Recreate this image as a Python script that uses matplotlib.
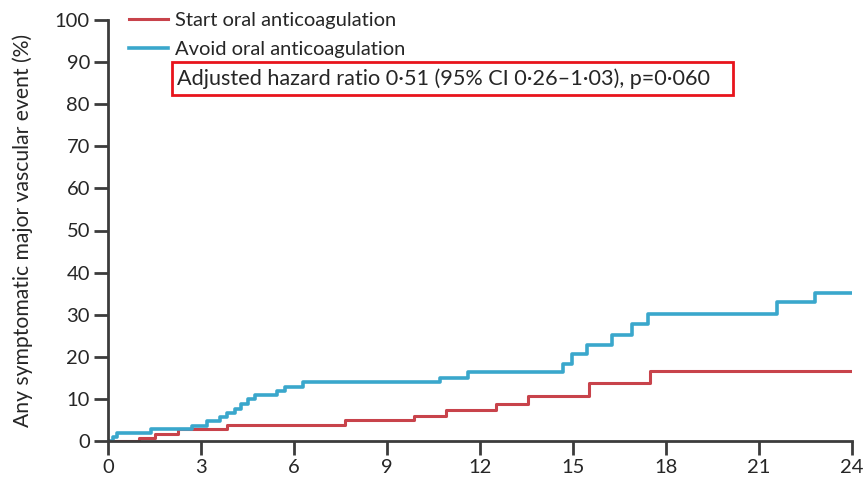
import matplotlib.pyplot as plt
from matplotlib.patches import Rectangle

plt.rcParams['font.family'] = ['Lato', 'DejaVu Sans']

# Kaplan-Meier style cumulative incidence (%), step times in months
start_t = [0, 1.0, 1.5, 2.27, 3.83, 7.65, 9.87, 10.9, 12.5, 13.56, 15.5, 17.48, 24]
start_y = [0, 0.6, 1.7, 2.8, 3.9, 5.0, 5.9, 7.4, 8.8, 10.7, 13.7, 16.6, 16.6]

avoid_t = [0, 0.15, 0.3, 1.4, 2.7, 3.18, 3.6, 3.83, 4.1, 4.3, 4.5, 4.74, 5.44,
           5.7, 6.3, 10.7, 11.6, 14.69, 14.96, 15.44, 16.25, 16.9, 17.43,
           21.57, 22.8, 24]
avoid_y = [0, 1.0, 1.9, 2.9, 3.6, 4.8, 5.6, 6.7, 7.7, 8.8, 9.9, 10.9, 11.9,
           12.9, 13.9, 15.0, 16.3, 18.4, 20.6, 22.8, 25.2, 27.7, 30.2,
           32.9, 35.2, 35.2]

xticks = [0, 3, 6, 9, 12, 15, 18, 21, 24]
yticks = [0, 10, 20, 30, 40, 50, 60, 70, 80, 90, 100]

RED = '#c8434b'
BLUE = '#3aa7cc'
AXIS = '#3c3c3c'
TEXT = '#262626'

W, H = 867, 480
fig = plt.figure(figsize=(W / 100, H / 100), dpi=100)
ax = fig.add_axes([108 / W, 1 - 441 / H, 744 / W, 421 / H])

ax.step(start_t, start_y, where='post', color=RED, lw=2.2, label='Start oral anticoagulation')
ax.step(avoid_t, avoid_y, where='post', color=BLUE, lw=2.6, label='Avoid oral anticoagulation')

ax.set_xlim(0, 24)
ax.set_ylim(0, 100)
ax.set_xticks(xticks)
ax.set_yticks(yticks)
ax.tick_params(length=10, width=2, color=AXIS, labelsize=14.5, labelcolor=TEXT, pad=3)
for side in ('top', 'right'):
    ax.spines[side].set_visible(False)
for side in ('left', 'bottom'):
    ax.spines[side].set_color(AXIS)
    ax.spines[side].set_linewidth(2)
ax.set_ylabel('Any symptomatic major vascular event (%)', fontsize=15.2, color=TEXT)
ax.yaxis.set_label_coords(-0.101, 0.5)

leg = ax.legend(loc='upper left', bbox_to_anchor=(0.018, 1.038), frameon=False,
                fontsize=14.5, handlelength=1.9, handletextpad=0.35, labelspacing=0.6,
                borderaxespad=0)
for txt in leg.get_texts():
    txt.set_color(TEXT)

# hazard ratio annotation with its red outline
fig.text(177 / W, 1 - 79 / H, 'Adjusted hazard ratio 0·51 (95% CI 0·26–1·03), p=0·060',
         fontsize=15.6, color=TEXT, va='center', ha='left')
fig.patches.append(Rectangle((172 / W, 1 - 95 / H), 561 / W, 33 / H,
                             transform=fig.transFigure, fill=False,
                             edgecolor='#e8141c', lw=2))

fig.savefig('out.png', dpi=100)
